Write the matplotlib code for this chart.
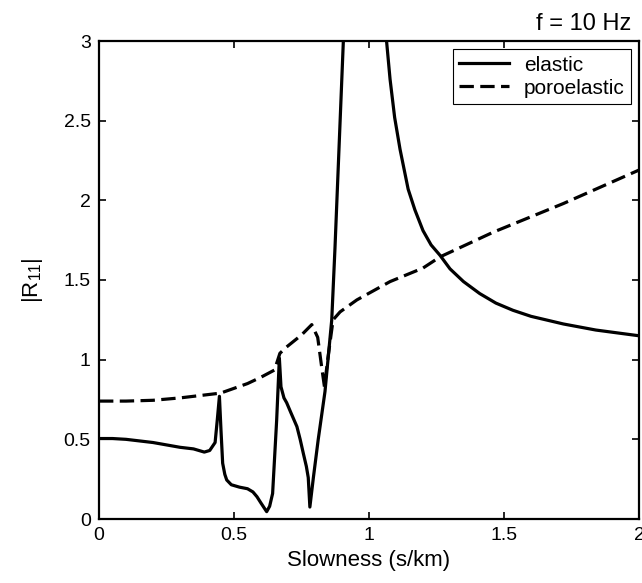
import matplotlib
matplotlib.use("Agg")
import matplotlib.pyplot as plt
from matplotlib.ticker import FuncFormatter

plt.rcParams['font.family'] = ['Liberation Sans', 'DejaVu Sans']
plt.rcParams['mathtext.default'] = 'regular'

# elastic |R11| vs slowness
elastic_x = [0.0, 0.05, 0.1, 0.15, 0.2, 0.25, 0.3, 0.35, 0.37, 0.39, 0.41, 0.43, 0.438,
             0.446, 0.452, 0.458, 0.466, 0.473, 0.49, 0.52, 0.55, 0.57, 0.585, 0.60,
             0.621, 0.632, 0.643, 0.658, 0.668, 0.674, 0.685, 0.695, 0.71, 0.733, 0.745,
             0.757, 0.768, 0.775, 0.781, 0.794, 0.812, 0.837, 0.862, 0.874,
             0.905, 0.95, 1.0, 1.04, 1.065, 1.078, 1.095, 1.115, 1.145, 1.17, 1.2,
             1.23, 1.263, 1.3, 1.35, 1.41, 1.47, 1.533, 1.6, 1.72, 1.84, 2.0]
elastic_y = [0.505, 0.505, 0.50, 0.49, 0.48, 0.465, 0.45, 0.44, 0.43, 0.42, 0.43, 0.48, 0.62,
             0.77, 0.55, 0.35, 0.28, 0.245, 0.215, 0.20, 0.19, 0.17, 0.14, 0.10,
             0.046, 0.08, 0.16, 0.62, 1.01, 0.83, 0.76, 0.73, 0.67, 0.58, 0.50,
             0.41, 0.33, 0.26, 0.075, 0.26, 0.50, 0.80, 1.25, 1.70,
             3.0, 4.5, 5.0, 4.0, 3.0, 2.76, 2.52, 2.32, 2.07, 1.94, 1.81,
             1.72, 1.655, 1.57, 1.49, 1.415, 1.355, 1.31, 1.272, 1.224, 1.186, 1.15]

# poroelastic |R11| vs slowness
poro_x = [0.0, 0.1, 0.2, 0.3, 0.4, 0.45, 0.5, 0.55, 0.6, 0.65, 0.67, 0.695, 0.75,
          0.788, 0.81, 0.825, 0.835, 0.847, 0.867, 0.893, 0.955, 1.078, 1.2, 1.263,
          1.46, 1.72, 2.0]
poro_y = [0.74, 0.74, 0.745, 0.76, 0.78, 0.79, 0.82, 0.85, 0.89, 0.935, 1.04, 1.08, 1.155,
          1.22, 1.14, 0.95, 0.83, 1.0, 1.25, 1.30, 1.375, 1.49, 1.575, 1.645,
          1.80, 1.98, 2.19]

xticks = [0, 0.5, 1, 1.5, 2]
yticks = [0, 0.5, 1, 1.5, 2, 2.5, 3]

fig = plt.figure(figsize=(6.42, 5.83), dpi=100)
ax = fig.add_axes([99/642, 64/583, 540/642, 478/583])

ax.plot(elastic_x, elastic_y, color='black', lw=2.3, label='elastic')
ax.plot(poro_x, poro_y, color='black', lw=2.3, linestyle=(0, (4.5, 2.0)), label='poroelastic')

ax.set_xlim(0, 2)
ax.set_ylim(0, 3)
ax.set_xticks(xticks)
ax.set_yticks(yticks)
fmt = FuncFormatter(lambda v, p: ('%g' % v))
ax.xaxis.set_major_formatter(fmt)
ax.yaxis.set_major_formatter(fmt)
ax.tick_params(direction='in', length=5, width=1.2, top=True, right=True, labelsize=14, pad=6)
for s in ax.spines.values():
    s.set_linewidth(1.6)

ax.set_xlabel('Slowness (s/km)', fontsize=16, labelpad=4)
ax.set_ylabel('|R$_{11}$|', fontsize=16, labelpad=13)

leg = ax.legend(loc='upper right', fontsize=15, frameon=True, fancybox=False,
                edgecolor='black', framealpha=1, handlelength=2.4, borderaxespad=0.4,
                borderpad=0.3, labelspacing=0.2, handletextpad=0.7)
leg.get_frame().set_linewidth(0.8)

fig.text(631/642, 1 - 30/583, 'f = 10 Hz', ha='right', va='baseline', fontsize=17)

fig.savefig('out.png', dpi=100)
